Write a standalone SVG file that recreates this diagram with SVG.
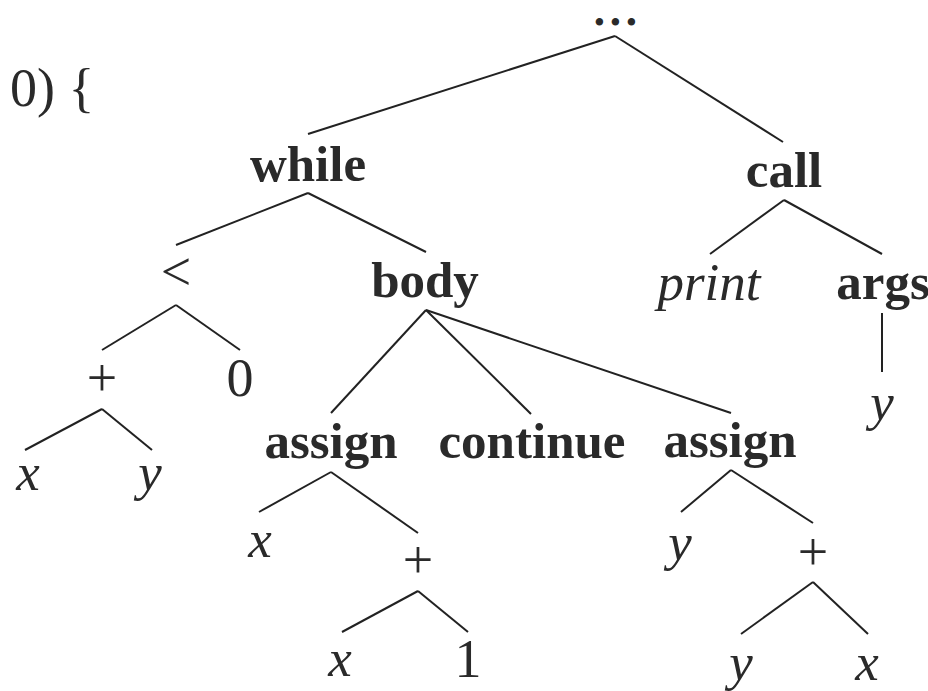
<svg xmlns="http://www.w3.org/2000/svg" width="928" height="691" viewBox="0 0 928 691">
<style>
text{font-family:"Liberation Serif","Times New Roman",serif;fill:#2a2a2a;text-anchor:middle}
.b{font-weight:bold;font-size:51px}
.r{font-size:54px}
.i{font-style:italic;font-size:53px}
.e line{stroke:#222;stroke-width:2;stroke-linecap:butt}
</style>
<rect width="928" height="691" fill="#fff"/>
<text class="r" x="10" y="106" style="text-anchor:start">0) {</text>
<g class="e" id="edges">
<line x1="615" y1="36" x2="308" y2="134"/>
<line x1="615" y1="36" x2="783" y2="142"/>
<line x1="308" y1="193" x2="176" y2="245"/>
<line x1="308" y1="193" x2="426" y2="252"/>
<line x1="176" y1="305" x2="102" y2="350"/>
<line x1="176" y1="305" x2="240" y2="350"/>
<line x1="102" y1="409" x2="25" y2="450"/>
<line x1="102" y1="409" x2="152" y2="450"/>
<line x1="426" y1="310" x2="331" y2="413"/>
<line x1="426" y1="310" x2="531" y2="414"/>
<line x1="426" y1="310" x2="731" y2="413"/>
<line x1="331" y1="472" x2="259" y2="512"/>
<line x1="331" y1="472" x2="418" y2="533"/>
<line x1="418" y1="591" x2="342" y2="632"/>
<line x1="418" y1="591" x2="468" y2="632"/>
<line x1="731" y1="470" x2="681" y2="512"/>
<line x1="731" y1="470" x2="813" y2="523"/>
<line x1="813" y1="582" x2="741" y2="634"/>
<line x1="813" y1="582" x2="868" y2="634"/>
<line x1="784" y1="200" x2="710" y2="254"/>
<line x1="784" y1="200" x2="882" y2="254"/>
<line x1="882" y1="313" x2="882" y2="372"/>
</g>
<g id="n-root"><text class="b" x="620" y="24" style="font-size:27px;letter-spacing:9.25px;stroke:#2a2a2a;stroke-width:3px;stroke-linejoin:round">...</text></g>
<g id="n-while"><text class="b" x="308" y="181">while</text></g>
<g id="n-call"><text class="b" x="784" y="187">call</text></g>
<g id="n-lt"><text class="r" x="176" y="290">&lt;</text></g>
<g id="n-body"><text class="b" x="425" y="297">body</text></g>
<g id="n-print"><text class="i" x="709" y="300">print</text></g>
<g id="n-args"><text class="b" x="883" y="299">args</text></g>
<g id="n-plus1"><text class="r" x="102" y="396">+</text></g>
<g id="n-zero"><text class="r" x="240" y="396">0</text></g>
<g id="n-y0"><text class="i" x="882" y="420">y</text></g>
<g id="n-x1"><text class="i" x="28" y="490">x</text></g>
<g id="n-y1"><text class="i" x="150" y="490">y</text></g>
<g id="n-assign1"><text class="b" x="331" y="458">assign</text></g>
<g id="n-continue"><text class="b" x="532" y="458">continue</text></g>
<g id="n-assign2"><text class="b" x="730" y="457">assign</text></g>
<g id="n-x2"><text class="i" x="260" y="557">x</text></g>
<g id="n-plus2"><text class="r" x="418" y="578">+</text></g>
<g id="n-x3"><text class="i" x="340" y="676">x</text></g>
<g id="n-one"><text class="r" x="468" y="677">1</text></g>
<g id="n-y2"><text class="i" x="680" y="560">y</text></g>
<g id="n-plus3"><text class="r" x="813" y="570">+</text></g>
<g id="n-y3"><text class="i" x="741" y="680">y</text></g>
<g id="n-x4"><text class="i" x="867" y="680">x</text></g>
</svg>
